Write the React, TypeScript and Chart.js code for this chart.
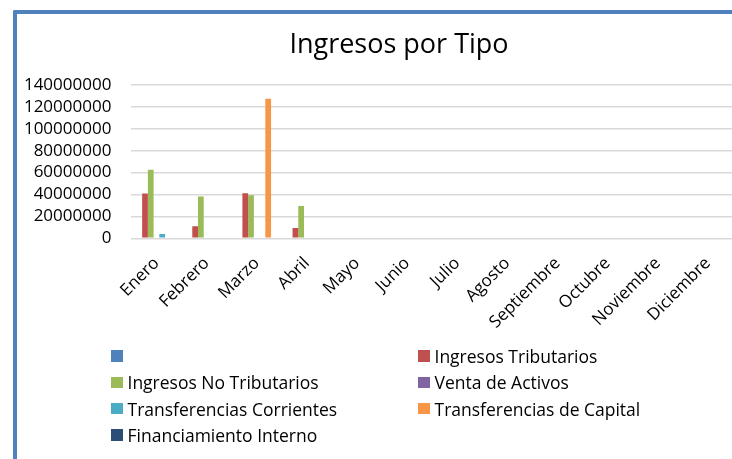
import React, { useEffect, useRef } from "react";
import { Chart, registerables } from "chart.js";

Chart.register(...registerables);

const title = "Ingresos por Tipo";
const months = ["Enero", "Febrero", "Marzo", "Abril", "Mayo", "Junio", "Julio", "Agosto", "Septiembre", "Octubre", "Noviembre", "Diciembre"];
const seriesNames = ["", "Ingresos Tributarios", "Ingresos No Tributarios", "Venta de Activos", "Transferencias Corrientes", "Transferencias de Capital", "Financiamiento Interno"];
const seriesColors = ["#4F81BD", "#C0504D", "#9BBB59", "#8064A2", "#4BACC6", "#F79646", "#2C4D75"];
const blankSeries = [0, 0, 0, 0, 0, 0, 0, 0, 0, 0, 0, 0];
const ingresosTributarios = [41000000, 11000000, 41200000, 9500000, 0, 0, 0, 0, 0, 0, 0, 0];
const ingresosNoTributarios = [62700000, 38200000, 39400000, 29600000, 0, 0, 0, 0, 0, 0, 0, 0];
const ventaActivos = [0, 0, 0, 0, 0, 0, 0, 0, 0, 0, 0, 0];
const transferenciasCorrientes = [3900000, 0, 0, 0, 0, 0, 0, 0, 0, 0, 0, 0];
const transferenciasCapital = [0, 0, 127500000, 0, 0, 0, 0, 0, 0, 0, 0, 0];
const financiamientoInterno = [0, 0, 0, 0, 0, 0, 0, 0, 0, 0, 0, 0];
const yMax = 140000000;
const yStep = 20000000;

const seriesData = [blankSeries, ingresosTributarios, ingresosNoTributarios, ventaActivos, transferenciasCorrientes, transferenciasCapital, financiamientoInterno];

const FONT = "'Open Sans', sans-serif";

export default function App() {
  const ref = useRef<HTMLCanvasElement>(null);

  useEffect(() => {
    if (!ref.current) return;
    const chart = new Chart(ref.current, {
      type: "bar",
      data: {
        labels: months,
        datasets: seriesNames.map((name, i) => ({
          label: name,
          data: seriesData[i],
          backgroundColor: seriesColors[i],
          borderWidth: 0,
          categoryPercentage: 0.8,
          barPercentage: 1,
          yAxisID: "y",
        })),
      },
      options: {
        animation: false,
        responsive: false,
        maintainAspectRatio: false,
        layout: { padding: { left: 0, right: 0, top: 0, bottom: 5.7 } },
        plugins: {
          legend: { display: false },
          tooltip: { enabled: false },
          title: {
            display: true,
            text: title,
            color: "#000",
            font: { family: FONT, size: 27, weight: "normal" },
            padding: { top: 15.6, bottom: 23 },
          },
        },
        scales: {
          x: {
            grid: { display: false },
            border: { display: false },
            ticks: {
              color: "#000",
              font: { family: FONT, size: 17 },
              minRotation: 45,
              maxRotation: 45,
              autoSkip: false,
              padding: 7,
            },
            afterFit: (scale: any) => {
              scale.height = 100;
            },
          },
          y: {
            min: 0,
            max: yMax,
            grid: { color: "#D9D9D9", lineWidth: 1.5, drawTicks: false },
            border: { display: false },
            ticks: {
              stepSize: yStep,
              autoSkip: false,
              color: "#000",
              font: { family: FONT, size: 17 },
              padding: 20,
              callback: (v: any) => String(v),
            },
            afterFit: (scale: any) => {
              scale.width = 114.4;
            },
          },
          spacer: {
            type: "linear",
            position: "right",
            display: true,
            grid: { display: false },
            border: { display: false },
            ticks: { display: false },
            afterFit: (scale: any) => {
              scale.width = 48;
            },
          },
        },
      },
    });
    return () => chart.destroy();
  }, []);

  const legendItems = seriesNames.map((n, i) => ({ name: n, color: seriesColors[i] }));

  return (
    <div style={{ position: "absolute", left: 0, top: 0, width: 732, height: 459, overflow: "hidden", background: "#fff" }}>
      <div
        style={{
          position: "absolute",
          left: 13,
          top: 10,
          width: 800,
          height: 500,
          borderLeft: "4px solid #4F81BD",
          borderTop: "4px solid #4F81BD",
          borderTopLeftRadius: 2,
        }}
      />
      <canvas ref={ref} width={764} height={330} style={{ position: "absolute", left: 17, top: 14, width: 764, height: 330 }} />
      <div
        style={{
          position: "absolute",
          left: 111,
          top: 343,
          display: "grid",
          gridTemplateColumns: "307px auto",
          gridAutoRows: "26.3px",
          fontFamily: FONT,
          fontSize: 17.5,
          color: "#000",
        }}
      >
        {legendItems.map((it, i) => (
          <div key={i} style={{ display: "flex", alignItems: "center", whiteSpace: "nowrap" }}>
            <span style={{ display: "inline-block", width: 11.5, height: 11.5, background: it.color, marginRight: 5 }} />
            <span>{it.name}</span>
          </div>
        ))}
      </div>
    </div>
  );
}
